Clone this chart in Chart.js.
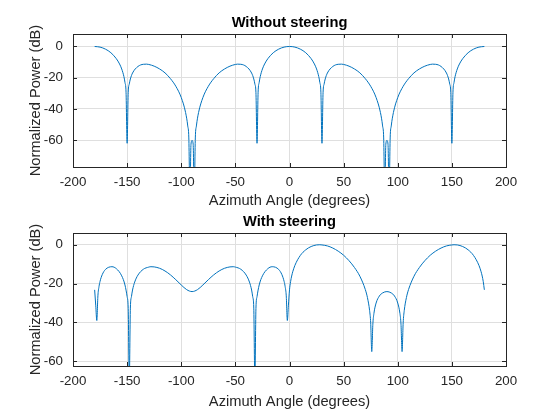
<!DOCTYPE html>
<html lang="en">
<head>
    <meta charset="UTF-8">
    <title>Array Pattern</title>
    <style>
        body {
            margin: 0;
            background-color: #ffffff;
        }
        .wrap {
            position: relative;
            width: 560px;
            height: 420px;
        }
        canvas {
            position: absolute;
            left: 0;
        }
        #topChart { top: 0; }
        #bottomChart { top: 199px; }
    </style>
</head>
<body>
    <div class="wrap">
        <canvas id="topChart" width="560" height="215"></canvas>
        <canvas id="bottomChart" width="560" height="221"></canvas>
    </div>

    <script src="https://cdn.jsdelivr.net/npm/chart.js"></script>

    <script>
        const xTicks = [-200, -150, -100, -50, 0, 50, 100, 150, 200];
        const yTicks = [-60, -40, -20, 0];

        // without steering (deg, dB)
        const noSteerAngles = [
            -180, -175, -170, -165, -160, -157, -155, -153, -152, -151,
            -150, -149, -148, -147, -145, -140, -135, -132, -130, -125,
            -120, -115, -110, -105, -100, -96, -94, -93, -92, -91,
            -90, -89, -88, -87, -86, -84, -80, -75, -70, -65,
            -60, -55, -50, -48, -45, -40, -35, -33, -32, -31,
            -30, -29, -28, -27, -25, -23, -20, -15, -10, -5,
            0, 5, 10, 15, 20, 23, 25, 27, 28, 29,
            30, 31, 32, 33, 35, 40, 45, 48, 50, 55,
            60, 65, 70, 75, 80, 84, 86, 87, 88, 89,
            90, 91, 92, 93, 94, 96, 100, 105, 110, 115,
            120, 125, 130, 132, 135, 140, 145, 147, 148, 149,
            150, 151, 152, 153, 155, 157, 160, 165, 170, 175,
            180
        ];
        const noSteerPower = [
            0, -0.4, -1.7, -4.0, -7.8, -11.2, -14.4, -19.2, -23.0, -29.3,
            -62, -29.6, -24.0, -20.8, -17.0, -12.8, -11.4, -11.3, -11.5, -12.6,
            -14.4, -16.9, -20.6, -25.5, -32.7, -42.3, -50.9, -58.6, -95, -62.6,
            -60.2, -62.6, -95, -58.6, -50.9, -42.3, -32.7, -25.5, -20.6, -16.9,
            -14.4, -12.6, -11.5, -11.3, -11.4, -12.8, -17.0, -20.8, -24.0, -29.6,
            -62, -29.3, -23.0, -19.2, -14.4, -11.2, -7.8, -4.0, -1.7, -0.4,
            0, -0.4, -1.7, -4.0, -7.8, -11.2, -14.4, -19.2, -23.0, -29.3,
            -62, -29.6, -24.0, -20.8, -17.0, -12.8, -11.4, -11.3, -11.5, -12.6,
            -14.4, -16.9, -20.6, -25.5, -32.7, -42.3, -50.9, -58.6, -95, -62.6,
            -60.2, -62.6, -95, -58.6, -50.9, -42.3, -32.7, -25.5, -20.6, -16.9,
            -14.4, -12.6, -11.5, -11.3, -11.4, -12.8, -17.0, -20.8, -24.0, -29.6,
            -62, -29.3, -23.0, -19.2, -14.4, -11.2, -7.8, -4.0, -1.7, -0.4,
            0
        ];

        // with steering (deg, dB)
        const steerAngles = [
            -180, -179, -178, -177, -176, -175, -173, -170, -164, -160,
            -155, -152, -150, -149, -148, -147, -146, -145, -143, -140,
            -135, -130, -128, -125, -120, -115, -110, -105, -100, -95,
            -90, -85, -80, -75, -70, -65, -60, -55, -52, -50,
            -45, -40, -37, -35, -34, -33, -32, -31, -30, -28,
            -25, -20, -16, -10, -7, -5, -4, -3, -2, -1,
            0, 1, 2, 3, 5, 10, 15, 20, 25, 28,
            30, 35, 40, 45, 50, 55, 60, 65, 70, 72,
            74, 75, 76, 77, 78, 80, 83, 86, 90, 94,
            97, 100, 102, 103, 104, 105, 106, 108, 110, 115,
            120, 125, 130, 135, 140, 145, 150, 152, 155, 160,
            165, 170, 175, 177, 178, 179, 180
        ];
        const steerPower = [
            -23.2, -31.1, -39, -26.3, -21.6, -18.8, -15.4, -12.7, -11.3, -12.3,
            -16.0, -20.7, -26.7, -32.8, -70, -32.6, -26.7, -23.3, -19.2, -15.6,
            -12.6, -11.5, -11.3, -11.4, -12.1, -13.5, -15.5, -18.0, -20.7, -23.1,
            -24.1, -23.1, -20.7, -18.0, -15.5, -13.5, -12.1, -11.4, -11.3, -11.5,
            -12.6, -15.6, -19.2, -23.3, -26.7, -32.6, -70, -32.8, -26.7, -20.7,
            -16.0, -12.3, -11.3, -12.7, -15.4, -18.8, -21.6, -26.3, -39, -31.1,
            -23.2, -19.0, -16.1, -13.9, -10.6, -5.5, -2.6, -0.9, -0.1, 0,
            -0.1, -0.6, -1.7, -3.3, -5.4, -8.2, -11.7, -16.2, -23.0, -27.2,
            -33.9, -40.2, -55, -40.9, -35.3, -30.0, -26.4, -24.8, -24.1, -24.8,
            -26.4, -30.0, -35.3, -40.9, -55, -40.2, -33.9, -27.2, -23.0, -16.2,
            -11.7, -8.2, -5.4, -3.3, -1.7, -0.6, -0.1, 0, -0.1, -0.9,
            -2.6, -5.5, -10.6, -13.9, -16.1, -19.0, -23.2
        ];

        const axisColor = '#262626';
        const gridColor = '#dfdfdf';
        Chart.defaults.font.family = "'Liberation Sans', Arial, Helvetica, sans-serif";

        // MATLAB-style box with inward tick marks
        const boxPlugin = {
            id: 'axesBox',
            afterDraw(chart) {
                const { ctx, chartArea: a, scales } = chart;
                ctx.save();
                ctx.strokeStyle = axisColor;
                ctx.lineWidth = 1;
                ctx.beginPath();
                xTicks.forEach(v => {
                    const px = Math.round(scales.x.getPixelForValue(v)) + 0.5;
                    ctx.moveTo(px, a.bottom);
                    ctx.lineTo(px, a.bottom - 4);
                    ctx.moveTo(px, a.top);
                    ctx.lineTo(px, a.top + 4);
                });
                yTicks.forEach(v => {
                    const py = Math.round(scales.y.getPixelForValue(v)) + 0.5;
                    ctx.moveTo(a.left, py);
                    ctx.lineTo(a.left + 4, py);
                    ctx.moveTo(a.right, py);
                    ctx.lineTo(a.right - 4, py);
                });
                ctx.stroke();
                ctx.strokeRect(a.left + 0.5, a.top + 0.5, a.right - a.left, a.bottom - a.top);
                ctx.restore();
            }
        };

        function makeChart(id, title, angles, power, yMin, yMax, xAxisHeight, xTitlePad) {
            const ctx = document.getElementById(id).getContext('2d');
            return new Chart(ctx, {
                type: 'line',
                data: {
                    datasets: [{
                        data: angles.map((a, i) => ({ x: a, y: power[i] })),
                        borderColor: '#0072BD',
                        borderWidth: 1,
                        pointRadius: 0,
                        fill: false,
                        cubicInterpolationMode: 'monotone'
                    }]
                },
                options: {
                    responsive: false,
                    animation: false,
                    layout: { padding: { left: 0, right: 54, top: 0, bottom: 0 } },
                    plugins: {
                        legend: { display: false },
                        tooltip: { enabled: false },
                        title: {
                            display: true,
                            text: title,
                            fullSize: false,
                            color: '#000000',
                            font: { size: 14.7, weight: 'bold', lineHeight: 1 },
                            padding: { top: 15.5, bottom: 3.8 }
                        }
                    },
                    scales: {
                        x: {
                            type: 'linear',
                            min: -200,
                            max: 200,
                            afterBuildTicks: s => { s.ticks = xTicks.map(v => ({ value: v })); },
                            afterFit: s => { s.height = xAxisHeight; },
                            grid: { color: gridColor, drawTicks: false },
                            border: { display: false },
                            ticks: {
                                color: axisColor,
                                font: { size: 13.33 },
                                padding: 7,
                                maxRotation: 0,
                                autoSkip: false
                            },
                            title: {
                                display: true,
                                text: 'Azimuth Angle (degrees)',
                                color: axisColor,
                                font: { size: 14.67 },
                                padding: { top: 0, bottom: xTitlePad }
                            }
                        },
                        y: {
                            min: yMin,
                            max: yMax,
                            afterBuildTicks: s => { s.ticks = yTicks.map(v => ({ value: v })); },
                            afterFit: s => { s.width = 73; },
                            grid: { color: gridColor, drawTicks: false },
                            border: { display: false },
                            ticks: {
                                color: axisColor,
                                font: { size: 13.33 },
                                padding: 10
                            },
                            title: {
                                display: true,
                                text: 'Normalized Power (dB)',
                                color: axisColor,
                                font: { size: 14.67 },
                                padding: { top: 27, bottom: 0 }
                            }
                        }
                    }
                },
                plugins: [boxPlugin]
            });
        }

        makeChart('topChart', 'Without steering', noSteerAngles, noSteerPower, -77.2, 8, 48, 5);
        makeChart('bottomChart', 'With steering', steerAngles, steerPower, -62.4, 6.05, 54, 9);
    </script>
</body>
</html>
